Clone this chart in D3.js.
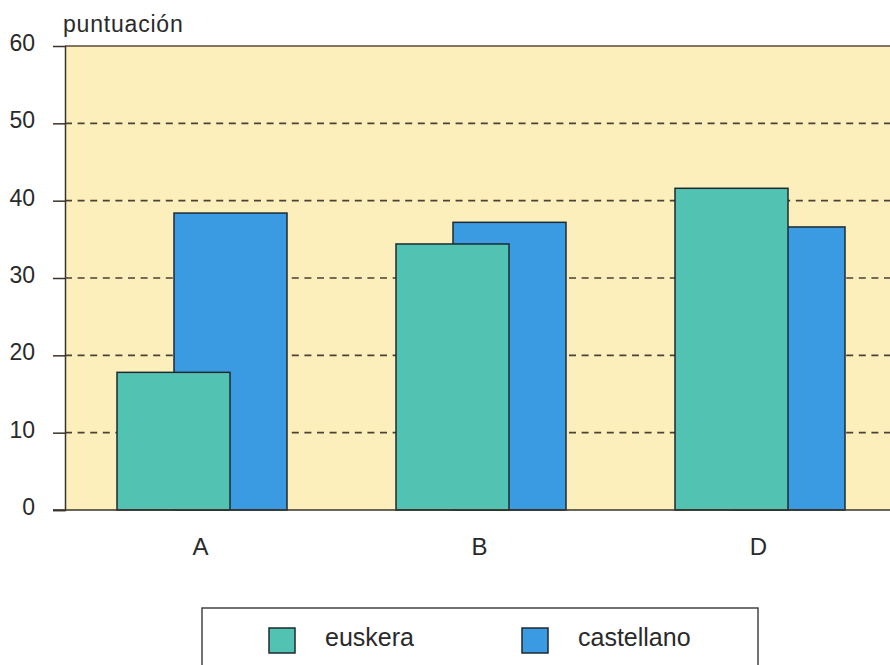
<!DOCTYPE html>
<html><head><meta charset="utf-8">
<script src="https://cdn.jsdelivr.net/npm/d3@7"></script>
<style>
html,body{margin:0;padding:0;background:#fff;overflow:hidden}
text{font-family:"Liberation Sans",Arial,sans-serif;fill:#2a2a2a}
</style></head><body>
<svg id="c" width="890" height="665"></svg>
<script>
const categories = ["A", "B", "D"];
const euskera = [17.8, 34.4, 41.6];
const castellano = [38.4, 37.2, 36.6];
const yTicks = [0, 10, 20, 30, 40, 50, 60];
const seriesNames = ["euskera", "castellano"];
const seriesColors = ["#52c2b2", "#3a9be2"];

const svg = d3.select("#c");
const pLeft = 65, pTop = 46, pBottom = 510, pRight = 905;
const y = d3.scaleLinear().domain([0, 60]).range([pBottom, pTop]);
const x = d3.scalePoint().domain(categories).range([202, 760]);
const barW = 113, shift = 57;
const FONT = "Liberation Sans, Arial, sans-serif";

// plot background
svg.append("rect").attr("x", pLeft).attr("y", pTop).attr("width", pRight - pLeft).attr("height", pBottom - pTop)
  .attr("fill", "#fcefbc");

// gridlines
svg.append("g").selectAll("line").data(yTicks.filter(d => d > 0 && d < 60)).join("line")
  .attr("x1", pLeft).attr("x2", pRight).attr("y1", d => y(d)).attr("y2", d => y(d))
  .attr("stroke", "#4a4232").attr("stroke-width", 1.6).attr("stroke-dasharray", "7,5.6");

// top border
svg.append("line").attr("x1", pLeft).attr("x2", pRight).attr("y1", pTop).attr("y2", pTop)
  .attr("stroke", "#5a4a3a").attr("stroke-width", 1.5);

// y axis
const yAxis = d3.axisLeft(y).tickValues(yTicks).tickSize(12).tickPadding(18);
const ga = svg.append("g").attr("transform", `translate(${pLeft},0)`).call(yAxis);
ga.attr("font-size", 24).attr("font-family", FONT);
ga.select(".domain").attr("stroke", "#3a3328").attr("stroke-width", 1.5);
ga.selectAll(".tick line").attr("stroke", "#3a3328").attr("stroke-width", 1.5);
ga.selectAll(".tick").filter(d => d === 60).select("line").remove();
ga.selectAll(".tick text").attr("font-size", 23).attr("fill", "#2a2a2a")
  .attr("font-family", FONT).attr("dy", "0.2em");

// bars: castellano behind, euskera in front
const g = svg.append("g");
g.selectAll("rect.cas").data(categories).join("rect").attr("class", "cas")
  .attr("x", d => x(d) - shift + 29).attr("width", barW)
  .attr("y", (d, i) => y(castellano[i])).attr("height", (d, i) => y(0) - y(castellano[i]))
  .attr("fill", seriesColors[1]).attr("stroke", "#1f2a30").attr("stroke-width", 1.5);
g.selectAll("rect.eus").data(categories).join("rect").attr("class", "eus")
  .attr("x", d => x(d) - shift - 28).attr("width", barW)
  .attr("y", (d, i) => y(euskera[i])).attr("height", (d, i) => y(0) - y(euskera[i]))
  .attr("fill", seriesColors[0]).attr("stroke", "#1f2a30").attr("stroke-width", 1.5);

// baseline
svg.append("line").attr("x1", 53).attr("x2", pRight).attr("y1", y(0)).attr("y2", y(0))
  .attr("stroke", "#3a3328").attr("stroke-width", 1.5);

// x labels
const xAxis = d3.axisBottom(x).tickSize(0).tickPadding(28);
const gx = svg.append("g").attr("transform", `translate(-2,${pBottom})`).call(xAxis);
gx.attr("font-size", 24).attr("font-family", FONT);
gx.select(".domain").remove();
gx.selectAll(".tick text").attr("font-size", 24).attr("fill", "#2a2a2a").attr("font-family", FONT);

// y title
svg.append("text").attr("x", 63).attr("y", 32).attr("font-size", 23).attr("letter-spacing", 0.8)
  .text("puntuación");

// legend
svg.append("rect").attr("x", 202).attr("y", 608).attr("width", 556).attr("height", 75)
  .attr("fill", "#fff").attr("stroke", "#444").attr("stroke-width", 1.5);
const legX = [269, 522];
const lg = svg.append("g").selectAll("g").data(seriesNames).join("g")
  .attr("transform", (d, i) => `translate(${legX[i]},628)`);
lg.append("rect").attr("width", 26).attr("height", 25).attr("fill", (d, i) => seriesColors[i])
  .attr("stroke", "#1f2a30").attr("stroke-width", 1.5);
lg.append("text").attr("x", 56).attr("y", 18).attr("font-size", 25).text(d => d);
</script>
</body></html>
